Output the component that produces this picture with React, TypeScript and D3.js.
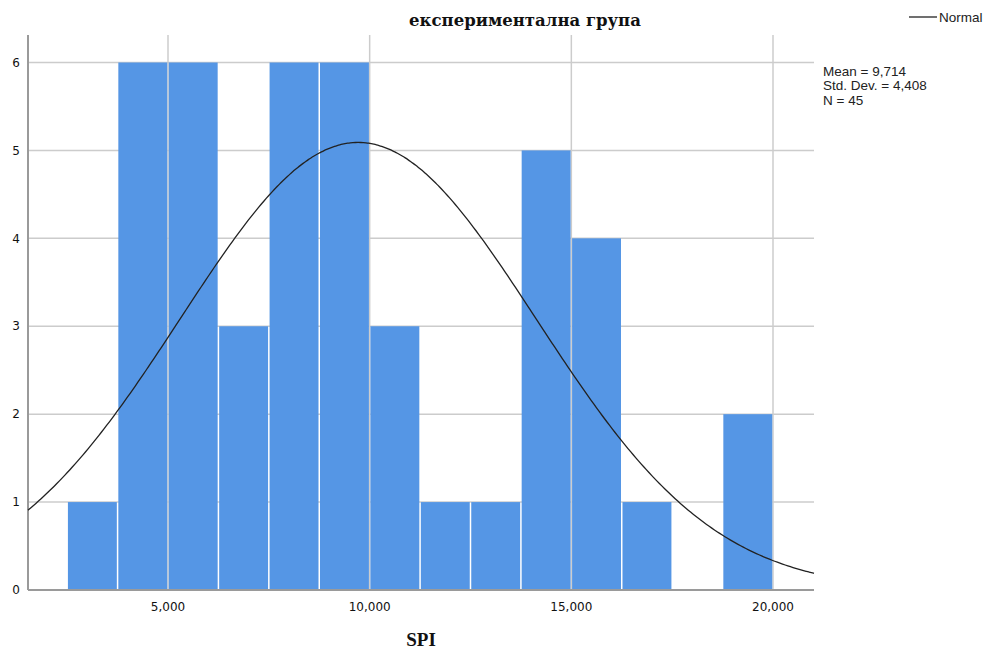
import React from "react";
import * as d3 from "d3";

// Histogram of SPI scores, experimental group
const binStart = 2.5;
const binWidth = 1.25;
const counts = [1, 6, 6, 3, 6, 6, 3, 1, 1, 5, 4, 1, 0, 2];
const xTicks = [5, 10, 15, 20];
const yTicks = [0, 1, 2, 3, 4, 5, 6];
const statMean = 9.714;
const statSd = 4.408;
const statN = 45;
const statLines = ["Mean = 9,714", "Std. Dev. = 4,408", "N = 45"];
const title = "експериментална група";
const xLabel = "SPI";

const W = 984;
const H = 651;
const plot = { left: 28, right: 814, top: 35, bottom: 590 };

const fmtTick = (v: number) => d3.format(",.3f")(v).replace(".", ",");

export default function App() {
  const x = d3.scaleLinear().domain([5, 20]).range([168, 773]);
  const xDomain = [x.invert(plot.left), x.invert(plot.right)];
  const y = d3.scaleLinear().domain([0, 6]).range([plot.bottom, 62.5]);

  const bins = counts.map((c, i) => ({
    x0: binStart + i * binWidth,
    x1: binStart + (i + 1) * binWidth,
    count: c,
  }));

  const scaleFactor = statN * binWidth;
  const pdf = (v: number) =>
    (scaleFactor / (statSd * Math.sqrt(2 * Math.PI))) *
    Math.exp(-0.5 * ((v - statMean) / statSd) ** 2);
  const curvePts = d3
    .range(0, 301)
    .map((i) => xDomain[0] + ((xDomain[1] - xDomain[0]) * i) / 300);
  const line = d3
    .line<number>()
    .x((v) => x(v))
    .y((v) => y(pdf(v)))
    .curve(d3.curveBasis);

  const gridColor = "#cccccc";
  const axisColor = "#9a9a9a";
  const barColor = "#5596e5";

  return (
    <div style={{ position: "absolute", left: 0, top: 0 }}>
      <svg width={W} height={H} style={{ display: "block", background: "#fff" }}>
        {/* grid */}
        {yTicks
          .filter((t) => t > 0)
          .map((t) => (
            <line
              key={"gy" + t}
              x1={plot.left}
              x2={plot.right}
              y1={y(t)}
              y2={y(t)}
              stroke={gridColor}
              strokeWidth={1.5}
            />
          ))}
        {xTicks.map((t) => (
          <line
            key={"gx" + t}
            x1={x(t)}
            x2={x(t)}
            y1={plot.top}
            y2={plot.bottom}
            stroke={gridColor}
            strokeWidth={1.5}
          />
        ))}

        {/* bars */}
        {bins
          .filter((b) => b.count > 0)
          .map((b, i) => (
            <rect
              key={"b" + i}
              x={x(b.x0) + 0.75}
              y={y(b.count)}
              width={x(b.x1) - x(b.x0) - 1.5}
              height={y(0) - y(b.count)}
              fill={barColor}
            />
          ))}

        {/* axes */}
        <line
          x1={plot.left}
          x2={plot.left}
          y1={plot.top}
          y2={plot.bottom}
          stroke={axisColor}
          strokeWidth={2}
        />
        <line
          x1={plot.left}
          x2={plot.right}
          y1={plot.bottom}
          y2={plot.bottom}
          stroke={axisColor}
          strokeWidth={2}
        />

        {/* normal curve */}
        <path d={line(curvePts) || ""} fill="none" stroke="#222" strokeWidth={1.3} />

        {/* tick labels */}
        {yTicks.map((t) => (
          <text
            key={"ty" + t}
            x={20}
            y={y(t)}
            dy="0.35em"
            textAnchor="end"
            fontFamily="DejaVu Sans"
            fontSize={12}
            fill="#111"
          >
            {t}
          </text>
        ))}
        {xTicks.map((t) => (
          <text
            key={"tx" + t}
            x={x(t)}
            y={611}
            textAnchor="middle"
            fontFamily="DejaVu Sans"
            fontSize={12}
            fill="#111"
          >
            {fmtTick(t)}
          </text>
        ))}

        {/* titles */}
        <text
          x={525}
          y={26}
          textAnchor="middle"
          fontFamily="DejaVu Serif"
          fontWeight="bold"
          fontSize={16.5}
          fill="#111"
        >
          {title}
        </text>
        <text
          x={421}
          y={646}
          textAnchor="middle"
          fontFamily="Liberation Serif"
          fontWeight="bold"
          fontSize={19}
          fill="#111"
        >
          {xLabel}
        </text>

        {/* legend */}
        <line x1={909} x2={937} y1={17} y2={17} stroke="#222" strokeWidth={1.3} />
        <text x={939} y={22} fontFamily="Liberation Sans" fontSize={13.5} fill="#222">
          Normal
        </text>
        {statLines.map((s, i) => (
          <text
            key={"s" + i}
            x={823}
            y={75.5 + i * 14.6}
            fontFamily="Liberation Sans"
            fontSize={13.5}
            fill="#222"
          >
            {s}
          </text>
        ))}
      </svg>
    </div>
  );
}
